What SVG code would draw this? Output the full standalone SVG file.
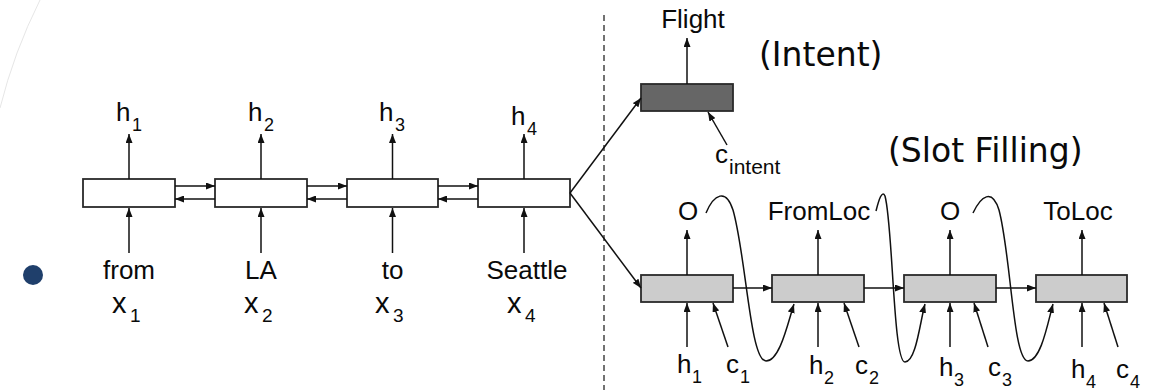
<svg xmlns="http://www.w3.org/2000/svg" width="1160" height="390" viewBox="0 0 1160 390">
<style>
.bx{stroke:#2a2a2a;stroke-width:1.8}
.w{fill:#fff}
.g{fill:#cccccc}
.d{fill:#666666}
.ln{stroke:#111;stroke-width:1.5;fill:none}
.t{font-family:"Liberation Sans",Arial,sans-serif;fill:#0a0a0a}
.v{font-family:"DejaVu Sans",Verdana,sans-serif;fill:#0a0a0a}
</style>
<defs>
<marker id="ah" markerUnits="userSpaceOnUse" markerWidth="9" markerHeight="7" refX="9" refY="3.5" orient="auto">
<path d="M0,0 L9,3.5 L0,7 z" fill="#111"/>
</marker>
</defs>
<rect width="1160" height="390" fill="#fff"/>
<path d="M0,108 Q14,52 40,0" fill="none" stroke="#e6e6e6" stroke-width="1"/>
<circle cx="33" cy="275" r="10" fill="#1f3f6b"/>
<line x1="604" y1="15" x2="604" y2="390" stroke="#444" stroke-width="1.5" stroke-dasharray="6 4"/>

<g id="enc1"><rect class="bx w" x="83" y="179" width="92" height="28"/></g>
<g id="enc2"><rect class="bx w" x="215" y="179" width="92" height="28"/></g>
<g id="enc3"><rect class="bx w" x="347" y="179" width="91" height="28"/></g>
<g id="enc4"><rect class="bx w" x="478" y="179" width="92" height="28"/></g>
<g id="intent"><rect class="bx d" x="641" y="84" width="92" height="27"/></g>
<g id="dec1"><rect class="bx g" x="641" y="275" width="92" height="27"/></g>
<g id="dec2"><rect class="bx g" x="772" y="275" width="92" height="27"/></g>
<g id="dec3"><rect class="bx g" x="904" y="275" width="92" height="27"/></g>
<g id="dec4"><rect class="bx g" x="1036" y="275" width="91" height="27"/></g>

<g id="connectors" class="ln" marker-end="url(#ah)">
<line x1="129" y1="179" x2="129" y2="134"/>
<line x1="261" y1="179" x2="261" y2="134"/>
<line x1="392.5" y1="179" x2="392.5" y2="134"/>
<line x1="524" y1="179" x2="524" y2="134"/>
<line x1="129" y1="253" x2="129" y2="208"/>
<line x1="261" y1="253" x2="261" y2="208"/>
<line x1="392.5" y1="253" x2="392.5" y2="208"/>
<line x1="524" y1="253" x2="524" y2="208"/>
<line x1="175" y1="186" x2="215" y2="186"/>
<line x1="215" y1="199" x2="175" y2="199"/>
<line x1="307" y1="186" x2="347" y2="186"/>
<line x1="347" y1="199" x2="307" y2="199"/>
<line x1="438" y1="186" x2="478" y2="186"/>
<line x1="478" y1="199" x2="438" y2="199"/>
<line x1="570" y1="193" x2="641" y2="98"/>
<line x1="570" y1="193" x2="641" y2="288"/>
<line x1="687" y1="84" x2="687" y2="38"/>
<line x1="727" y1="145" x2="708" y2="112"/>
<line x1="687" y1="275" x2="687" y2="230"/>
<line x1="818" y1="275" x2="818" y2="230"/>
<line x1="950" y1="275" x2="950" y2="230"/>
<line x1="1082" y1="275" x2="1082" y2="230"/>
<line x1="733" y1="288" x2="772" y2="288"/>
<line x1="864" y1="288" x2="904" y2="288"/>
<line x1="996" y1="288" x2="1036" y2="288"/>
<line x1="687" y1="347" x2="687" y2="303"/>
<line x1="818" y1="347" x2="818" y2="303"/>
<line x1="950" y1="347" x2="950" y2="303"/>
<line x1="1082" y1="347" x2="1082" y2="303"/>
<line x1="728" y1="347" x2="713" y2="303"/>
<line x1="859" y1="347" x2="844" y2="303"/>
<line x1="988" y1="347" x2="974" y2="303"/>
<line x1="1118" y1="347" x2="1104" y2="303"/>
<path d="M706,213 C714,194 726,188 733,210 C746,255 750,361 766,361 C780,361 788,322 794,304"/>
<path d="M876,211 C879,199 882,190 885,196 C893,225 893,362 905,362 C916,362 920,322 925,304"/>
<path d="M973,213 C981,196 992,188 999,210 C1011,255 1013,361 1028,361 C1041,361 1048,322 1053,304"/>
</g>

<g id="labels">
<text class="t" x="116" y="121" font-size="26">h</text><text class="t" x="132" y="131" font-size="18">1</text>
<text class="t" x="248" y="121" font-size="26">h</text><text class="t" x="264" y="131" font-size="18">2</text>
<text class="t" x="379" y="121" font-size="26">h</text><text class="t" x="395" y="131" font-size="18">3</text>
<text class="t" x="511" y="125" font-size="26">h</text><text class="t" x="527" y="135" font-size="18">4</text>
<text class="t" x="129" y="279" font-size="26" text-anchor="middle">from</text>
<text class="t" x="261" y="279" font-size="26" text-anchor="middle">LA</text>
<text class="t" x="392.5" y="279" font-size="26" text-anchor="middle">to</text>
<text class="t" x="527" y="279" font-size="26" text-anchor="middle">Seattle</text>
<text class="t" x="112" y="313" font-size="29">x</text><text class="t" x="130" y="322" font-size="19">1</text>
<text class="t" x="244" y="313" font-size="29">x</text><text class="t" x="262" y="322" font-size="19">2</text>
<text class="t" x="375" y="313" font-size="29">x</text><text class="t" x="393" y="322" font-size="19">3</text>
<text class="t" x="507" y="313" font-size="29">x</text><text class="t" x="525" y="322" font-size="19">4</text>
<text class="t" x="693" y="28" font-size="26" text-anchor="middle">Flight</text>
<text class="v" x="759" y="66" font-size="33">(Intent)</text>
<text class="t" x="715" y="163" font-size="26">c</text><text class="t" x="729" y="174" font-size="21">intent</text>
<text class="v" x="888" y="162" font-size="33">(Slot Filling)</text>
<text class="t" x="688" y="220" font-size="26" text-anchor="middle">O</text>
<text class="t" x="819" y="220" font-size="26" text-anchor="middle">FromLoc</text>
<text class="t" x="950" y="220" font-size="26" text-anchor="middle">O</text>
<text class="t" x="1078" y="220" font-size="26" text-anchor="middle">ToLoc</text>
<text class="t" x="677" y="373" font-size="26">h</text><text class="t" x="692" y="383" font-size="18">1</text>
<text class="t" x="726" y="373" font-size="26">c</text><text class="t" x="740" y="383" font-size="18">1</text>
<text class="t" x="809" y="374" font-size="26">h</text><text class="t" x="824" y="384" font-size="18">2</text>
<text class="t" x="855" y="374" font-size="26">c</text><text class="t" x="869" y="384" font-size="18">2</text>
<text class="t" x="939" y="376" font-size="26">h</text><text class="t" x="954" y="386" font-size="18">3</text>
<text class="t" x="988" y="376" font-size="26">c</text><text class="t" x="1002" y="386" font-size="18">3</text>
<text class="t" x="1071" y="378" font-size="26">h</text><text class="t" x="1086" y="388" font-size="18">4</text>
<text class="t" x="1116" y="378" font-size="26">c</text><text class="t" x="1130" y="388" font-size="18">4</text>
</g>
</svg>
